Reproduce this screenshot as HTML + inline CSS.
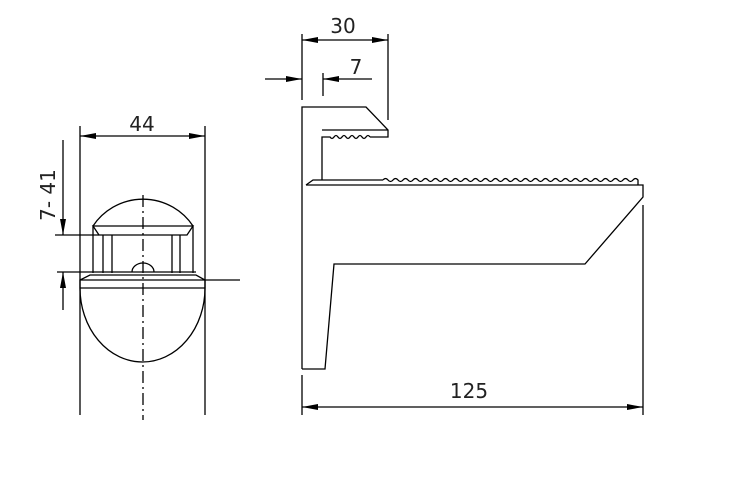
<!DOCTYPE html>
<html><head><meta charset="utf-8"><style>
html,body{margin:0;padding:0;background:#fff;}
svg{display:block;}
text{font-family:"DejaVu Sans","Liberation Sans",sans-serif;font-size:20px;fill:#222;}
</style></head><body>
<svg width="730" height="483" viewBox="0 0 730 483" xmlns="http://www.w3.org/2000/svg">
<defs>
<marker id="a" viewBox="0 0 16 6" refX="16" refY="3" markerWidth="16" markerHeight="6" orient="auto-start-reverse" markerUnits="userSpaceOnUse"><path d="M0,0L16,3L0,6Z" fill="#000"/></marker>
</defs>
<g stroke="#000" stroke-width="1.3" fill="none">
<!-- LEFT VIEW -->
<line x1="80" y1="126" x2="80" y2="415"/>
<line x1="205" y1="126" x2="205" y2="415"/>
<line x1="80" y1="136" x2="205" y2="136" marker-start="url(#a)" marker-end="url(#a)"/>
<path d="M93,226 A60,60 0 0 1 193,226"/>
<path d="M93,226 L193,226 L187,235 L99,235 Z"/>
<line x1="55" y1="235" x2="99" y2="235"/>
<line x1="93" y1="226" x2="93" y2="273"/>
<line x1="103" y1="235" x2="103" y2="273"/>
<line x1="112" y1="235" x2="112" y2="273"/>
<line x1="172" y1="235" x2="172" y2="273"/>
<line x1="180" y1="235" x2="180" y2="273"/>
<line x1="193" y1="226" x2="193" y2="273"/>
<line x1="57" y1="272" x2="196" y2="272"/>
<path d="M132,272 A11,9 0 0 1 154,272"/>
<path d="M80,288 L80,280 L90,275 L196,275 L205,280 L205,288"/>
<line x1="80" y1="280" x2="240" y2="280"/>
<line x1="80" y1="288" x2="205" y2="288"/>
<path d="M80,288 A62.5,74 0 0 0 205,288"/>
<line x1="143" y1="195" x2="143" y2="420" stroke-dasharray="12,4,2,4"/>
<line x1="63" y1="140" x2="63" y2="235" marker-end="url(#a)"/>
<line x1="63" y1="310" x2="63" y2="272" marker-end="url(#a)"/>
<!-- RIGHT VIEW -->
<line x1="302" y1="34" x2="302" y2="100"/>
<line x1="388" y1="34" x2="388" y2="120"/>
<line x1="302" y1="40" x2="388" y2="40" marker-start="url(#a)" marker-end="url(#a)"/>
<line x1="265" y1="79" x2="302" y2="79" marker-end="url(#a)"/>
<line x1="372" y1="79" x2="323" y2="79" marker-end="url(#a)"/>
<line x1="323" y1="73" x2="323" y2="96"/>
<path d="M302,369 L302,107 L366,107 L388,130 L388,137 L370,137"/>
<path d="M370,137 q-2,-3 -4,0 t-4,0 t-4,0 t-4,0 t-4,0 t-4,0 t-4,0 t-4,0 t-4,0 t-4,0 L327,137 L322,137 L322,180"/>
<line x1="322" y1="130" x2="388" y2="130"/>
<path d="M306,185 L313,180 L383,180"/>
<path d="M383,180 q2.5,-3 5,0 t5,0 t5,0 t5,0 t5,0 t5,0 t5,0 t5,0 t5,0 t5,0 t5,0 t5,0 t5,0 t5,0 t5,0 t5,0 t5,0 t5,0 t5,0 t5,0 t5,0 t5,0 t5,0 t5,0 t5,0 t5,0 t5,0 t5,0 t5,0 t5,0 t5,0 t5,0 t5,0 t5,0 t5,0 t5,0 t5,0 t5,0 t5,0 t5,0 t5,0 t5,0 t5,0 t5,0 t5,0 t5,0 t5,0 t5,0 t5,0 t5,0 t5,0 L638,185"/>
<path d="M306,185 L643,185 L643,197 L585,264 L334,264 L325,369 L302,369"/>
<line x1="643" y1="205" x2="643" y2="415"/>
<line x1="302" y1="375" x2="302" y2="415"/>
<line x1="302" y1="407" x2="643" y2="407" marker-start="url(#a)" marker-end="url(#a)"/>
</g>
<text x="142" y="131" text-anchor="middle">44</text>
<text x="343" y="33" text-anchor="middle">30</text>
<text x="356" y="74" text-anchor="middle">7</text>
<text x="469" y="398" text-anchor="middle">125</text>
<text transform="translate(55,195) rotate(-90)" text-anchor="middle">7- 41</text>
</svg>
</body></html>
